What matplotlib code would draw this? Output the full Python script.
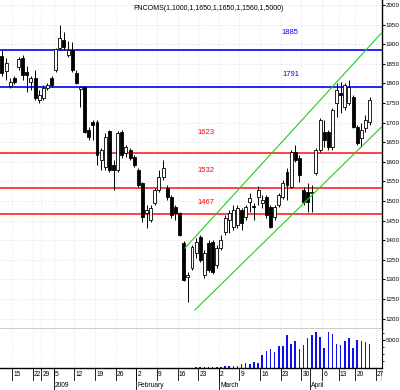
import matplotlib

matplotlib.use('Agg')
import matplotlib.pyplot as plt
import numpy as np

plt.rcParams['font.family'] = ['Liberation Sans', 'DejaVu Sans']

# daily candles (open, high, low, close)
opens = [1870, 1832, 1794, 1814, 1842, 1865, 1829, 1804, 1814, 1758,
         1763, 1789, 1814, 1834, 1891, 1911, 1873, 1885, 1827, 1786,
         1791, 1681, 1702, 1702, 1605, 1587, 1679, 1592, 1579, 1676,
         1623, 1630, 1613, 1579, 1546, 1470, 1452, 1495, 1528, 1562,
         1533, 1510, 1485, 1470, 1393, 1306, 1329, 1368, 1409, 1312,
         1393, 1396, 1337, 1380, 1421, 1452, 1434, 1439, 1477, 1460,
         1498, 1488, 1510, 1495, 1510, 1485, 1460, 1490, 1510, 1574,
         1536, 1625, 1610, 1528, 1523, 1521, 1572, 1630, 1676, 1676,
         1638, 1750, 1776, 1740, 1750, 1766, 1689, 1661, 1687, 1702]
highs = [1885, 1865, 1814, 1819, 1868, 1873, 1845, 1819, 1834, 1783,
         1796, 1801, 1819, 1891, 1949, 1931, 1908, 1906, 1834, 1794,
         1794, 1689, 1707, 1707, 1636, 1674, 1681, 1605, 1679, 1681,
         1643, 1636, 1618, 1585, 1549, 1490, 1490, 1533, 1579, 1605,
         1541, 1516, 1490, 1472, 1398, 1319, 1388, 1406, 1414, 1375,
         1401, 1401, 1388, 1414, 1465, 1477, 1490, 1490, 1483, 1490,
         1521, 1495, 1539, 1516, 1516, 1490, 1490, 1521, 1554, 1585,
         1630, 1643, 1618, 1536, 1546, 1541, 1636, 1712, 1707, 1681,
         1738, 1801, 1804, 1801, 1809, 1771, 1694, 1699, 1720, 1766]
lows = [1819, 1809, 1789, 1799, 1834, 1809, 1778, 1783, 1758, 1750,
        1758, 1783, 1791, 1829, 1885, 1885, 1868, 1829, 1799, 1740,
        1674, 1656, 1656, 1592, 1579, 1579, 1574, 1528, 1574, 1610,
        1613, 1605, 1587, 1536, 1447, 1432, 1447, 1490, 1523, 1554,
        1503, 1457, 1452, 1411, 1296, 1243, 1324, 1355, 1345, 1304,
        1319, 1314, 1329, 1375, 1414, 1419, 1426, 1432, 1426, 1452,
        1472, 1452, 1490, 1483, 1457, 1432, 1452, 1485, 1505, 1503,
        1533, 1600, 1549, 1490, 1472, 1472, 1567, 1625, 1638, 1630,
        1630, 1715, 1725, 1732, 1745, 1687, 1643, 1638, 1676, 1694]
closes = [1827, 1852, 1804, 1804, 1863, 1822, 1822, 1814, 1763, 1771,
          1789, 1796, 1796, 1888, 1916, 1893, 1885, 1834, 1801, 1791,
          1676, 1664, 1694, 1618, 1630, 1664, 1579, 1579, 1674, 1618,
          1638, 1610, 1592, 1541, 1460, 1477, 1483, 1528, 1562, 1585,
          1510, 1465, 1470, 1414, 1299, 1312, 1383, 1396, 1350, 1368,
          1324, 1319, 1380, 1401, 1457, 1470, 1477, 1483, 1444, 1485,
          1508, 1485, 1528, 1503, 1465, 1434, 1485, 1516, 1546, 1541,
          1625, 1605, 1567, 1498, 1498, 1523, 1630, 1707, 1656, 1638,
          1732, 1783, 1771, 1796, 1791, 1689, 1648, 1681, 1707, 1758]
volume = [0] * 47 + [100, 90, 120, 110, 150, 180, 230, 410, 410, 410,
                     360, 660, 950, 710, 1130, 840, 2320, 3040, 3390, 2910,
                     3930, 3930, 5890, 4290, 4820, 3450, 4110, 5300, 5840, 6480,
                     5480, 3520, 6380, 6070, 4230, 4110, 4880, 5300, 3570, 5000,
                     4880, 4700, 4290]

# horizontal levels
blue_levels = [1885, 1791]
red_levels = [1623, 1532, 1467]

# channel lines (day index, price)
upper_channel = [(44.3, 1380), (92.0, 1930)]
lower_channel = [(46.7, 1222), (92.0, 1690)]

# date axis
week_pos = [2.5, 7.5, 9.5, 12.5, 17.5, 22.5, 27.5, 32.5, 37.5, 42.5,
            47.5, 52.5, 57.5, 62.5, 67.5, 72.5, 77.5, 81.5, 85.5, 90.5]
week_labels = ['15', '22', '29', '5', '12', '19', '26', '2', '9', '16',
               '23', '2', '9', '16', '23', '30', '6', '13', '20', '27']
month_pos = [12.5, 32.5, 52.5, 74.5]
month_labels = ['2009', 'February', 'March', 'April']

title = 'FNCOMS(1,1000,1,1650,1,1650,1,1560,1,5000)'

fig = plt.figure(figsize=(4, 3.9), dpi=100)
W, H = 400, 390
ax = fig.add_axes([0, 61 / H, 382 / W, 329 / H])
axv = fig.add_axes([0, 22 / H, 382 / W, 39 / H], sharex=ax)
axd = fig.add_axes([0, 0, 382 / W, 22 / H], sharex=ax)

x = np.arange(len(opens))
o = np.array(opens)
c = np.array(closes)
up = c >= o

# faint dotted grid
for p in range(1200, 2001, 50):
    ax.axhline(p, color='#d8d8d8', lw=0.5, ls=':', zorder=0)
for wp in week_pos:
    ax.axvline(wp, color='#d8d8d8', lw=0.5, ls=':', zorder=0)

ax.vlines(x, lows, highs, color='black', lw=0.7, zorder=3)
body_h = np.maximum(np.abs(c - o), 2)
ax.bar(x, body_h, bottom=np.minimum(o, c), width=0.72,
       color=np.where(up, 'white', 'black'), edgecolor='black',
       linewidth=0.6, zorder=4)

for lv in blue_levels:
    ax.axhline(lv, color='#0000ff', lw=1.2, zorder=2)
for lv in red_levels:
    ax.axhline(lv, color='#ff2020', lw=1.2, zorder=2)

label_xy = [(69.7, 1929), (70.0, 1824), (49.4, 1674), (49.4, 1579), (49.4, 1495)]
for (lx, ly), lv, col in zip(label_xy, blue_levels + red_levels,
                             ['#0000ff'] * 2 + ['#ff0000'] * 3):
    ax.text(lx, ly, str(lv), color=col, fontsize=5.5, ha='center', va='center')

for line in (upper_channel, lower_channel):
    (x0, y0), (x1, y1) = line
    ax.plot([x0, x1], [y0, y1], color='#22cc22', lw=0.8, zorder=5)

ax.set_xlim(-0.48, 92.0)
ax.set_ylim(1173.5, 2012.8)
ax.yaxis.tick_right()
ax.set_yticks(range(1200, 2001, 50))
ax.tick_params(axis='y', labelsize=4.5, length=2, width=0.8, pad=0.8)
ax.tick_params(axis='x', bottom=False, labelbottom=False)
for s in ['top', 'left']:
    ax.spines[s].set_visible(False)
ax.spines['right'].set_linewidth(1)
ax.spines['bottom'].set_linewidth(1)

# volume panel
axv.bar(x, volume, width=0.38, color='#1010ee')
axv.set_ylim(0, 6965)
axv.yaxis.tick_right()
axv.set_yticks([5000])
axv.set_yticks([1250, 2500, 3750, 6250], minor=True)
axv.tick_params(axis='y', labelsize=4.5, length=2, width=0.8, pad=0.8)
axv.tick_params(axis='y', which='minor', length=1.5)
axv.tick_params(axis='x', bottom=False, labelbottom=False)
for s in ['top', 'left']:
    axv.spines[s].set_visible(False)
axv.spines['bottom'].set_linewidth(1)
for wp in week_pos:
    axv.axvline(wp, color='#d8d8d8', lw=0.5, ls=':', zorder=0)

# date strip
axd.set_ylim(0, 1)
axd.axis('off')
for wp, lab in zip(week_pos, week_labels):
    axd.plot([wp, wp], [1, 0.45], color='black', lw=0.6)
    axd.text(wp + 0.3, 0.72, lab, fontsize=4.8, ha='left', va='center')
for mp, lab in zip(month_pos, month_labels):
    axd.plot([mp, mp], [1, 0], color='black', lw=0.6)
    axd.text(mp + 0.3, 0.2, lab, fontsize=4.8, ha='left', va='center')
axd.plot([92.0, 92.0], [1, 0.45], color='black', lw=1)

fig.text(133 / W, 1 - 9 / H, title, fontsize=5, ha='left', va='center')

fig.savefig('out.png', dpi=100)
